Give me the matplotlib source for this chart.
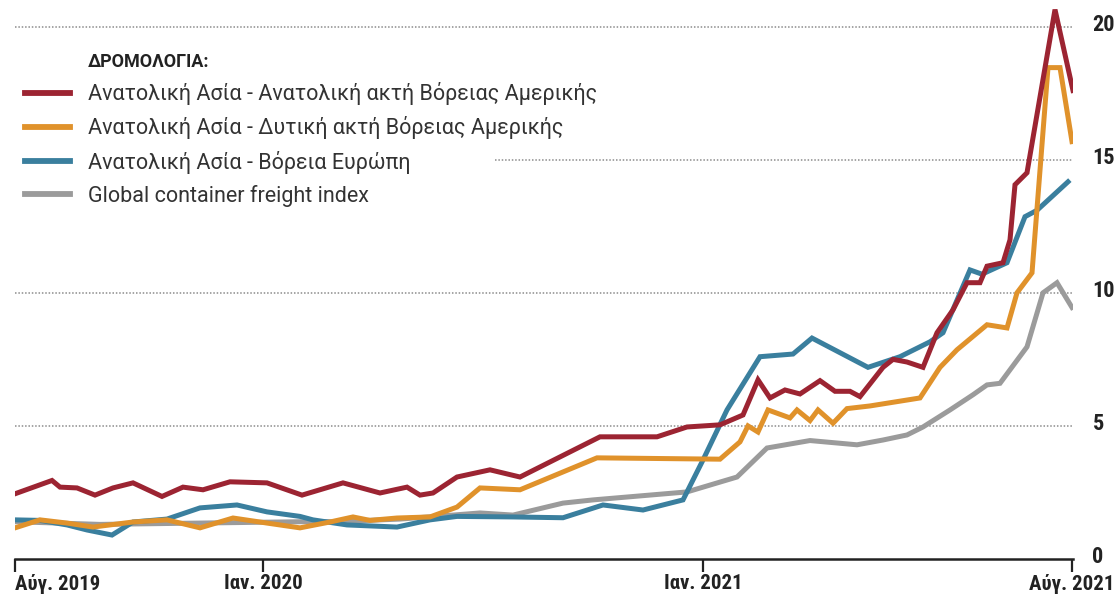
import matplotlib
matplotlib.use('Agg')
import matplotlib.pyplot as plt
from matplotlib import font_manager
from matplotlib.lines import Line2D
from matplotlib.transforms import ScaledTranslation

# pick a narrow family for the axis labels if one is installed
installed = {f.name for f in font_manager.fontManager.ttflist}
FONT = 'DejaVu Sans'
for name in ['Roboto Condensed', 'Liberation Sans Narrow', 'DejaVu Sans']:
    if name in installed:
        FONT = name
        break
LEG_FONT = 'Roboto' if 'Roboto' in installed else 'DejaVu Sans'
plt.rcParams['font.family'] = [FONT, 'DejaVu Sans']

# position along the time axis (0 = Aug 2019, 1057 = Aug 2021), values in thousand $ per FEU
red_x = [0, 37, 45, 62, 80, 98, 118, 147, 168, 188, 215, 252, 287, 328, 365, 392, 405, 418,
         442, 475, 505, 585, 642, 672, 705, 728, 743, 755, 770, 785, 805, 820, 835, 845, 868,
         878, 892, 908, 922, 938, 952, 965, 972, 988, 995, 1000, 1012, 1040, 1058]
red_y = [2.45, 2.95, 2.7, 2.67, 2.4, 2.67, 2.86, 2.35, 2.7, 2.6, 2.9, 2.86, 2.4, 2.86, 2.48, 2.7, 2.4, 2.48,
         3.08, 3.35, 3.08, 4.59, 4.59, 4.96, 5.04, 5.41, 6.73, 6.05, 6.35, 6.2, 6.7, 6.3, 6.3, 6.1, 7.2,
         7.5, 7.4, 7.2, 8.5, 9.36, 10.38, 10.38, 11.0, 11.13, 11.99, 14.06, 14.51, 20.64, 17.6]

orange_x = [0, 25, 52, 78, 118, 152, 185, 218, 252, 285, 315, 338, 355, 382, 415, 442, 465, 505,
            582, 705, 725, 733, 743, 753, 775, 782, 795, 803, 818, 832, 855, 905, 925, 942, 972,
            992, 1002, 1017, 1033, 1045, 1057]
orange_y = [1.17, 1.47, 1.35, 1.2, 1.39, 1.47, 1.17, 1.54, 1.35, 1.17, 1.39, 1.58, 1.45, 1.54, 1.58, 1.95, 2.67, 2.6,
            3.8, 3.75, 4.4, 5.0, 4.77, 5.6, 5.3, 5.6, 5.2, 5.6, 5.1, 5.65, 5.75, 6.05, 7.2, 7.86, 8.8,
            8.68, 10.0, 10.75, 18.46, 18.46, 15.68]

teal_x = [0, 25, 52, 72, 97, 118, 152, 185, 222, 252, 285, 298, 332, 382, 415, 442, 498, 548,
          588, 628, 668, 688, 712, 745, 778, 797, 853, 885, 915, 928, 955, 967, 992, 1010, 1022, 1053]
teal_y = [1.47, 1.45, 1.28, 1.09, 0.9, 1.39, 1.5, 1.92, 2.03, 1.77, 1.6, 1.47, 1.28, 1.2, 1.47, 1.6, 1.58, 1.55,
          2.03, 1.84, 2.22, 3.72, 5.6, 7.6, 7.7, 8.3, 7.2, 7.6, 8.16, 8.5, 10.86, 10.7, 11.13, 12.86, 13.1, 14.17]

gray_x = [0, 85, 185, 285, 320, 385, 438, 465, 498, 548, 578, 672, 722, 752, 795, 842, 868, 892,
          908, 935, 958, 972, 985, 1012, 1028, 1042, 1057]
gray_y = [1.4, 1.3, 1.35, 1.4, 1.4, 1.5, 1.65, 1.73, 1.65, 2.1, 2.22, 2.52, 3.08, 4.17, 4.45, 4.29, 4.47, 4.66,
          4.96, 5.6, 6.17, 6.54, 6.6, 7.97, 10.0, 10.38, 9.45]

tick_pos = [0, 248, 688, 1057]
tick_labels = ['Αύγ. 2019', 'Ιαν. 2020', 'Ιαν. 2021', 'Αύγ. 2021']
y_ticks = [0, 5, 10, 15, 20]

names = ['Ανατολική Ασία - Ανατολική ακτή Βόρειας Αμερικής',
         'Ανατολική Ασία - Δυτική ακτή Βόρειας Αμερικής',
         'Ανατολική Ασία - Βόρεια Ευρώπη',
         'Global container freight index']
colors = ['#9c2432', '#e0922b', '#3a7f9e', '#9b9b9b']

fig = plt.figure(figsize=(11.17, 5.99), dpi=100)
ax = fig.add_axes([15 / 1117, 40 / 599, 1058 / 1117, 559 / 599])

lw = 3.6
ax.plot(gray_x, gray_y, color=colors[3], lw=lw, solid_joinstyle='miter', zorder=3)
ax.plot(teal_x, teal_y, color=colors[2], lw=lw, solid_joinstyle='miter', zorder=4)
ax.plot(orange_x, orange_y, color=colors[1], lw=lw, solid_joinstyle='miter', zorder=5)
ax.plot(red_x, red_y, color=colors[0], lw=lw, solid_joinstyle='miter', zorder=6)

ax.set_xlim(0, 1058)
ax.set_ylim(0, 21)

# dotted gridlines, the 15 one starts after the legend
for v in y_ticks[1:]:
    start = 0.454 if v == 15 else 0.0
    ax.axhline(v, xmin=start, xmax=1.0, color='#8c8c8c', lw=1.1, ls=(0, (1, 1.2)), zorder=1)

for s in ['top', 'right', 'left']:
    ax.spines[s].set_visible(False)
ax.spines['bottom'].set_linewidth(1.8)
ax.spines['bottom'].set_color('#222222')

ax.set_xticks(tick_pos)
ax.set_xticklabels(tick_labels, fontsize=15, fontweight='bold', color='#222222')
ax.tick_params(axis='x', direction='out', length=9, width=1.6, color='#222222', pad=2)
ax.get_xticklabels()[0].set_horizontalalignment('left')

ax.yaxis.tick_right()
ax.set_yticks(y_ticks)
ax.set_yticklabels([str(v) for v in y_ticks], fontsize=16, fontweight='bold', color='#222222')
ax.tick_params(axis='y', length=0, pad=14)
lift = ScaledTranslation(0, 3 / 72, fig.dpi_scale_trans)
for lab in ax.get_yticklabels():
    lab.set_verticalalignment('center_baseline')
    lab.set_transform(lab.get_transform() + lift)

handles = [Line2D([], [], color='none')]
handles += [Line2D([], [], color=c, lw=4.2) for c in colors]
leg = ax.legend(handles, ['ΔΡΟΜΟΛΟΓΙΑ:'] + names, loc='upper left',
                bbox_to_anchor=(25 / 1117, 1 - 52 / 599), bbox_transform=fig.transFigure,
                frameon=False, prop={'family': LEG_FONT, 'size': 15.5},
                handlelength=2.1, handletextpad=0.84,
                labelspacing=0.52, borderpad=0, borderaxespad=0)
texts = leg.get_texts()
texts[0].set_fontweight('bold')
texts[0].set_fontsize(13)
texts[0].set_color('#222222')
for t in texts[1:]:
    t.set_color('#333333')

fig.savefig('out.png', dpi=100)
